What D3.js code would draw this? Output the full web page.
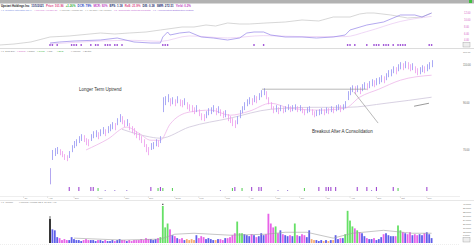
<!DOCTYPE html>
<html>
<head>
<meta charset="utf-8">
<script src="https://cdn.jsdelivr.net/npm/d3@7"></script>
<style>
  html, body { margin: 0; padding: 0; background: #fff; }
  svg { display: block; font-family: "Liberation Sans", Arial, sans-serif; }
</style>
</head>
<body>
<svg id="chart"></svg>
<script>
// daily bars (price), index 0 = first trading day
var lows = [58.3,66.3,67.7,68.4,68.0,67.3,66.3,65.9,67.0,69.1, 70.6,71.3,72.5,73.3,72.9,71.7,71.3,73.3,74.4,74.8,
  74.0,75.2,76.0,75.2,76.4,77.2,78.0,77.6,79.7,81.0, 80.1,78.9,79.3,77.6,76.4,75.6,74.4,73.6,72.5,71.0,
  69.1,68.0,69.9,70.2,71.3,71.0,72.5,85.4,88.6,90.0, 88.1,89.0,88.1,89.5,88.1,87.6,88.6,86.7,85.8,85.4,
  84.5,85.4,83.6,81.8,81.4,82.7,84.0,84.5,85.4,84.0, 84.9,83.6,82.7,83.1,81.4,80.6,79.3,78.5,80.1,82.7,
  84.9,86.3,88.1,89.0,88.6,90.0,89.5,91.0,92.4,93.4, 91.4,89.0,86.7,84.9,85.4,84.5,85.8,84.9,85.4,86.3,
  85.4,85.8,86.3,85.4,85.8,84.9,84.0,84.9,85.4,84.0, 83.1,83.6,84.0,84.5,84.0,84.9,84.5,85.4,84.9,85.8,
  86.3,85.4,86.3,87.2,91.0,93.4,94.9,93.9,94.9,93.9, 95.4,96.4,95.9,96.9,97.9,97.4,98.4,99.0,100.0,99.5,
  101.1,102.7,103.2,104.9,104.3,106.0,107.1,106.6,107.7,107.1, 106.0,106.6,104.9,103.8,104.3,105.5,104.9,106.0,107.1,108.3];
var highs = [63.5,69.9,70.6,71.0,70.2,69.5,68.4,68.0,69.5,71.7, 73.3,74.0,75.2,76.0,75.6,74.4,74.0,76.0,77.2,77.6,
  76.8,78.0,78.9,78.0,79.3,80.1,81.0,80.6,82.7,84.5, 83.6,81.8,82.3,80.6,79.3,78.5,77.2,76.4,75.2,74.0,
  72.1,71.0,72.5,72.9,74.0,73.6,75.2,92.4,92.9,93.9, 91.9,92.4,91.4,92.9,91.4,91.0,91.9,90.0,89.0,88.6,
  87.6,88.6,86.7,84.9,84.5,85.8,87.2,87.6,88.6,87.2, 88.1,86.7,85.8,86.3,84.5,83.6,82.7,81.8,83.6,86.3,
  88.1,90.0,91.4,92.4,91.9,93.4,92.9,94.4,95.9,96.9, 95.4,92.4,90.0,88.1,88.6,87.6,88.6,87.6,88.1,89.0,
  88.1,88.6,89.0,88.1,88.6,87.6,86.7,87.6,88.1,86.7, 85.8,86.3,86.7,87.2,86.7,87.6,87.2,88.1,87.6,88.6,
  89.0,88.6,89.0,90.5,95.4,97.4,98.4,97.9,98.4,97.4, 99.0,100.0,99.5,100.6,101.6,101.1,102.2,102.7,103.8,103.2,
  104.9,106.6,107.1,108.8,108.3,110.0,111.2,110.6,111.8,111.2, 110.0,110.6,108.8,107.7,108.3,109.4,108.8,110.0,111.2,112.4];
// volume, millions
var volumes = [25,14,13,6,5,3,4,3,3,6, 4,3,3,2,3,4,3,3,3,2, 3,3,2,3,2,2,3,2,3,4, 3,3,2,3,2,3,3,3,4,3,
  5,4,4,3,4,5,6,38,16,20, 14,8,7,5,4,5,3,4,3,4, 3,8,5,7,6,4,5,4,3,3, 4,4,3,5,5,6,8,10,22,10,
  10,9,8,7,9,8,6,7,10,8, 9,30,20,16,17,10,13,9,8,7, 8,7,20,8,7,9,8,6,13,4, 3,3,2,3,2,3,2,3,3,8,
  4,5,5,9,33,23,17,15,13,11, 10,7,5,4,4,5,3,4,6,9, 10,8,7,7,7,18,13,11,10,9, 11,8,9,8,9,8,10,11,9,5];

// moving averages (read at a few points)
var maShortIdx = [15,24,32,37,42,46,50,58,67,75,83,92,100,112,123,129,137,146,159];
var maShortVal = [69.9,74.0,78.9,76.4,73.6,73.6,80.1,85.4,86.3,84.0,85.8,89.5,87.2,86.3,87.2,92.4,96.4,101.1,103.8];
var maLongIdx = [30,40,46,58,75,92,110,124,140,159];
var maLongVal = [78.0,75.2,74.4,78.9,82.7,86.7,87.6,87.6,89.5,92.4];
var volMaIdx = [10,30,46,52,60,75,90,98,107,118,126,139,151,159];
var volMaVal = [5,3,4,9,10,8,9,11,11,5,10,13,10,10];

// top panel: index line and relative strength
var idxLineIdx = [-21,-15,-8,0,8,21,27,33,40,46,55,60,65,69,74,79,83,90,98,105,112,118,125,129,132,135,142,149,155,159];
var idxLineVal = [2.52,2.81,3.41,4.89,5.19,6.07,5.78,6.07,6.37,6.96,7.85,7.85,8.44,8.15,9.04,8.74,8.74,9.04,9.33,9.93,9.63,10.81,10.81,11.7,12.0,12.0,11.41,10.52,10.81,12.0];
var rsIdx = [0,4,10,21,28,35,42,46,47,49,50,54,58,63,68,74,79,82,85,89,92,98,105,111,118,123,125,132,139,146,152,155,159];
var rsVal = [3.11,3.41,3.70,4.0,4.59,3.41,3.11,3.11,4.89,6.37,5.48,6.07,6.37,4.89,4.59,4.0,4.59,6.07,6.37,6.37,5.48,4.89,4.89,4.59,4.89,5.48,6.96,8.44,9.33,11.41,11.41,10.81,12.0];
var rsMaIdx = [0,21,35,46,58,74,89,105,123,132,146,159];
var rsMaVal = [2.8,3.7,3.9,3.6,5.2,4.6,5.3,5.0,5.0,6.5,9.5,11.0];
var rsMarks = [0,1,3,9,10,11,13,17,19,20,23,24,25,27,28,30,47,48,49,85,89,124,125,127,132,135,136,137,139,140,141,143,145,146,147,148,158,159];

// event flags under the price bars
var purpleMarks = [8,12,17,18,42,46,77,84,87,88,112,115,116,117,119,128,132,136,143,157];
var greenMarks = [20,45,47,51,76,80,106,145];
var dotMarks = [23,27,32,71,95,99,134];

var priceTicks = [70, 90, 110];
var rsTicks = [4, 6, 8, 10, 12];
var volTicks = [4, 8, 12, 16, 20, 24, 28, 32, 36, 40];
var dateIdx = [-11,-1,10,20,31,41,52,62,73,83,94,104,115,125,136,146,157];
var dateLbl = ["Jul","Aug","Sep","Oct","Nov","Dec","2021","Feb","Mar","Apr","May","Jun","Jul","Aug","Sep","Oct","Nov"];

var W = 474, H = 249;
var svg = d3.select("#chart").attr("width", W).attr("height", H);

var x = d3.scaleLinear().domain([0, lows.length - 1]).range([50, 431.6]);
var yRs = d3.scaleLinear().domain([4, 12]).range([40, 13]);
var yPrice = d3.scaleLog().domain([55.1, 115.5]).range([195, 55]);
var yVol = d3.scaleLinear().domain([0, 40]).range([243, 204]);
var px = function (i) { return Math.round(x(i)) + 0.5; };

// header strip
svg.append("rect").attr("x", 0).attr("y", 0).attr("width", W).attr("height", 3.5).attr("fill", "#b2b2b2");
svg.append("rect").attr("x", 469).attr("y", 0).attr("width", 3).attr("height", 3).attr("fill", "#3fbf3f");

var head = svg.append("text").attr("x", 1).attr("y", 7.3).attr("font-size", 2.9).attr("font-weight", 600);
[["Upstart Holdings Inc", "#222"], ["11/5/2021", "#1d2f6e"], ["Price: 101.96", "#d9457f"],
 ["+1.26%", "#2eaa3a"], ["DCR: 79%", "#2a3fbf"], ["MCR: 92%", "#c03bbf"],
 ["EPS: 1.18", "#1d2f6e"], ["RoE: 21.9%", "#d9457f"], ["D/E: 0.38", "#1d2f6e"],
 ["SMR: 272.51", "#1d2f6e"], ["Yield: 0.2%", "#c03bbf"]].forEach(function (s, k) {
  head.append("tspan").attr("dx", k ? 2 : 0).attr("fill", s[1]).text(s[0]);
});

var leg1 = svg.append("text").attr("x", 1).attr("y", 11.3).attr("font-size", 2.5);
[["• 1. Relative Strength (SPY)", "#6d7fe0"], ["• Moving Average 21", "#d070d0"],
 ["• Moving Average 50", "#888"], ["• 4. 50-Day Avg Volume", "#888"],
 ["• 5. Composite Uptrend Products", "#c060d0"], ["• 6. Accumulation/Distribution Rating", "#8a60d8"]].forEach(function (s, k) {
  leg1.append("tspan").attr("dx", k ? 2.5 : 0).attr("fill", s[1]).text(s[0]);
});

// top panel
var lineRs = d3.line().x(function (d) { return x(d[0]); }).y(function (d) { return yRs(d[1]); });
svg.append("path").datum(d3.zip(idxLineIdx, idxLineVal)).attr("d", lineRs)
  .attr("fill", "none").attr("stroke", "#cdcdcd").attr("stroke-width", 0.8);
svg.append("path").datum(d3.zip(rsMaIdx, rsMaVal)).attr("d", lineRs.curve(d3.curveMonotoneX))
  .attr("fill", "none").attr("stroke", "#e4bdf0").attr("stroke-width", 0.6);
svg.append("path").datum(d3.zip(rsIdx, rsVal)).attr("d", lineRs.curve(d3.curveLinear))
  .attr("fill", "none").attr("stroke", "#9484e8").attr("stroke-width", 0.7);

svg.append("g").selectAll("rect").data(rsMarks).enter().append("rect")
  .attr("x", function (d) { return x(d) - 0.7; }).attr("y", 44)
  .attr("width", 1.4).attr("height", 2).attr("fill", "#a35ad8");

var rsAxis = svg.append("g").attr("transform", "translate(463,0)")
  .call(d3.axisRight(yRs).tickValues(rsTicks).tickFormat(d3.format(".2f")).tickSize(0));
rsAxis.select(".domain").remove();
rsAxis.selectAll("text").attr("font-size", 2.6).attr("fill", "#d466c8").attr("x", 1);

svg.append("rect").attr("x", 463).attr("y", 42.5).attr("width", 7).attr("height", 4.5)
  .attr("fill", "#eee").attr("stroke", "#999").attr("stroke-width", 0.4);
svg.append("text").attr("x", 463).attr("y", 53).attr("font-size", 2.4).attr("fill", "#777").text("100.00");

svg.append("line").attr("x1", 0).attr("x2", W).attr("y1", 48.5).attr("y2", 48.5)
  .attr("stroke", "#c4c4c4").attr("stroke-width", 0.6);

var leg2 = svg.append("text").attr("y", 52.3).attr("font-size", 2.4);
[["• 1. DGT Day", 1, "#777"], ["• Colors", 17, "#d060c0"], ["• Name", 27, "#777"], ["• Trend", 37, "#3bb33b"],
 ["• RS+", 47, "#777"], ["• EPS", 57, "#3bb33b"], ["• Volume", 71, "#777"], ["• Sector", 83, "#777"]].forEach(function (s) {
  leg2.append("tspan").attr("x", s[1]).attr("fill", s[2]).text(s[0]);
});

// price panel: moving averages
var linePrice = d3.line().x(function (d) { return x(d[0]); }).y(function (d) { return yPrice(d[1]); })
  .curve(d3.curveMonotoneX);
svg.append("path").datum(d3.zip(maLongIdx, maLongVal)).attr("d", linePrice)
  .attr("fill", "none").attr("stroke", "#cec5db").attr("stroke-width", 0.8);
svg.append("path").datum(d3.zip(maShortIdx, maShortVal)).attr("d", linePrice)
  .attr("fill", "none").attr("stroke", "#eeb6ea").attr("stroke-width", 0.8);

// price bars
var bars = lows.map(function (lo, i) { return { i: i, lo: lo, hi: highs[i], mid: (lo + highs[i]) / 2 }; });
svg.append("g").selectAll("line").data(bars).enter().append("line")
  .attr("x1", function (d) { return px(d.i); }).attr("x2", function (d) { return px(d.i); })
  .attr("y1", function (d) { return yPrice(d.lo); }).attr("y2", function (d) { return yPrice(d.hi); })
  .attr("stroke", function (d, i) {
    if (i === 0) return "#a090ec";
    return d.mid >= bars[i - 1].mid ? "#9494f2" : "#ec9aec";
  })
  .attr("stroke-width", 0.8);

// annotations
var ann = svg.append("g").attr("stroke", "#8a8a8a").attr("stroke-width", 0.6);
ann.append("line").attr("x1", x(88.3)).attr("x2", x(132)).attr("y1", yPrice(96.4)).attr("y2", yPrice(96.4));
ann.append("line").attr("x1", x(126.7)).attr("y1", yPrice(94.9)).attr("x2", x(136.7)).attr("y2", yPrice(80.6));
ann.append("line").attr("x1", x(151.7)).attr("y1", yPrice(88.1)).attr("x2", x(157.9)).attr("y2", yPrice(89.5))
  .attr("stroke", "#555");

svg.append("text").attr("x", x(12.1)).attr("y", yPrice(95.6)).attr("font-size", 4.5).attr("fill", "#333")
  .text("Longer Term Uptrend");
svg.append("text").attr("x", x(109.2)).attr("y", yPrice(76.6)).attr("font-size", 4.5).attr("fill", "#333")
  .text("Breakout After A Consolidation");

var pAxis = svg.append("g").attr("transform", "translate(462,0)")
  .call(d3.axisRight(yPrice).tickValues(priceTicks).tickFormat(d3.format(".2f")).tickSize(0));
pAxis.select(".domain").remove();
pAxis.selectAll("text").attr("font-size", 2.6).attr("fill", "#666").attr("x", 1);

// event flags
svg.append("g").selectAll("rect").data(purpleMarks).enter().append("rect")
  .attr("x", function (d) { return x(d) - 0.5; }).attr("y", 187).attr("width", 1.1).attr("height", 4)
  .attr("fill", "#a04ad0");
svg.append("g").selectAll("rect").data(greenMarks).enter().append("rect")
  .attr("x", function (d) { return x(d) - 0.5; }).attr("y", 188).attr("width", 1.1).attr("height", 3)
  .attr("fill", "#5fd05f");
svg.append("g").selectAll("rect").data(dotMarks).enter().append("rect")
  .attr("x", function (d) { return x(d) - 0.5; }).attr("y", 190).attr("width", 1).attr("height", 1)
  .attr("fill", "#9a7ad8");

// date axis
svg.append("line").attr("x1", 0).attr("x2", 460).attr("y1", 196.5).attr("y2", 196.5)
  .attr("stroke", "#ddd").attr("stroke-width", 0.5);
var dg = svg.append("g").selectAll("g").data(d3.zip(dateIdx, dateLbl)).enter().append("g");
dg.append("line").attr("x1", function (d) { return x(d[0]); }).attr("x2", function (d) { return x(d[0]); })
  .attr("y1", 196.5).attr("y2", 198).attr("stroke", "#bbb").attr("stroke-width", 0.4);
dg.append("text").attr("x", function (d) { return x(d[0]) + 0.8; }).attr("y", 199.3)
  .attr("font-size", 2.3).attr("fill", "#888").text(function (d) { return d[1]; });

svg.append("line").attr("x1", 0).attr("x2", W).attr("y1", 200.5).attr("y2", 200.5)
  .attr("stroke", "#cfcfcf").attr("stroke-width", 0.5);

var leg3 = svg.append("text").attr("y", 203.2).attr("font-size", 2.4);
[["• 1. Volume", 1, "#777"], ["• Moving Average 50", 19, "#777"], ["• 3. 50 Day Avg", 40, "#888"]].forEach(function (s) {
  leg3.append("tspan").attr("x", s[1]).attr("fill", s[2]).text(s[0]);
});

// volume bars
function volColor(v, i) {
  if (i === 0) return "#222";
  var prev = volumes.slice(Math.max(0, i - 20), i);
  var avg = d3.mean(prev);
  var up = bars[i].mid >= bars[i - 1].mid;
  if (up) return v >= 1.4 * avg ? "#66e066" : "#5e5eea";
  if (i >= 20 && v <= 0.5 * avg) return "#f5aa70";
  return "#e862e8";
}
svg.append("g").selectAll("rect").data(volumes).enter().append("rect")
  .attr("x", function (d, i) { return x(i) - 0.9; })
  .attr("y", function (d) { return yVol(d); })
  .attr("width", 1.8)
  .attr("height", function (d) { return yVol(0) - yVol(d); })
  .attr("fill", volColor);

svg.append("path").datum(d3.zip(volMaIdx, volMaVal))
  .attr("d", d3.line().x(function (d) { return x(d[0]); }).y(function (d) { return yVol(d[1]); }))
  .attr("fill", "none").attr("stroke", "#a0a0a0").attr("stroke-width", 0.6);

// markers above the two largest volume days
[0, 47].forEach(function (i) {
  svg.append("rect").attr("x", x(i) - 0.6).attr("y", yVol(volumes[i]) - 2.2)
    .attr("width", 1.2).attr("height", 1.2).attr("fill", "#333");
});

var vAxis = svg.append("g").attr("transform", "translate(462,0)")
  .call(d3.axisRight(yVol).tickValues(volTicks).tickFormat(function (d) { return d + ",000K"; }).tickSize(0));
vAxis.select(".domain").remove();
vAxis.selectAll("text").attr("font-size", 2.2).attr("fill", "#666").attr("x", 1);

svg.append("rect").attr("x", 463).attr("y", 237.5).attr("width", 7).attr("height", 4.5)
  .attr("fill", "#eee").attr("stroke", "#999").attr("stroke-width", 0.4);
svg.append("line").attr("x1", 0).attr("x2", 460).attr("y1", 244.5).attr("y2", 244.5)
  .attr("stroke", "#ddd").attr("stroke-width", 0.5).attr("stroke-dasharray", "1,1");
</script>
</body>
</html>
